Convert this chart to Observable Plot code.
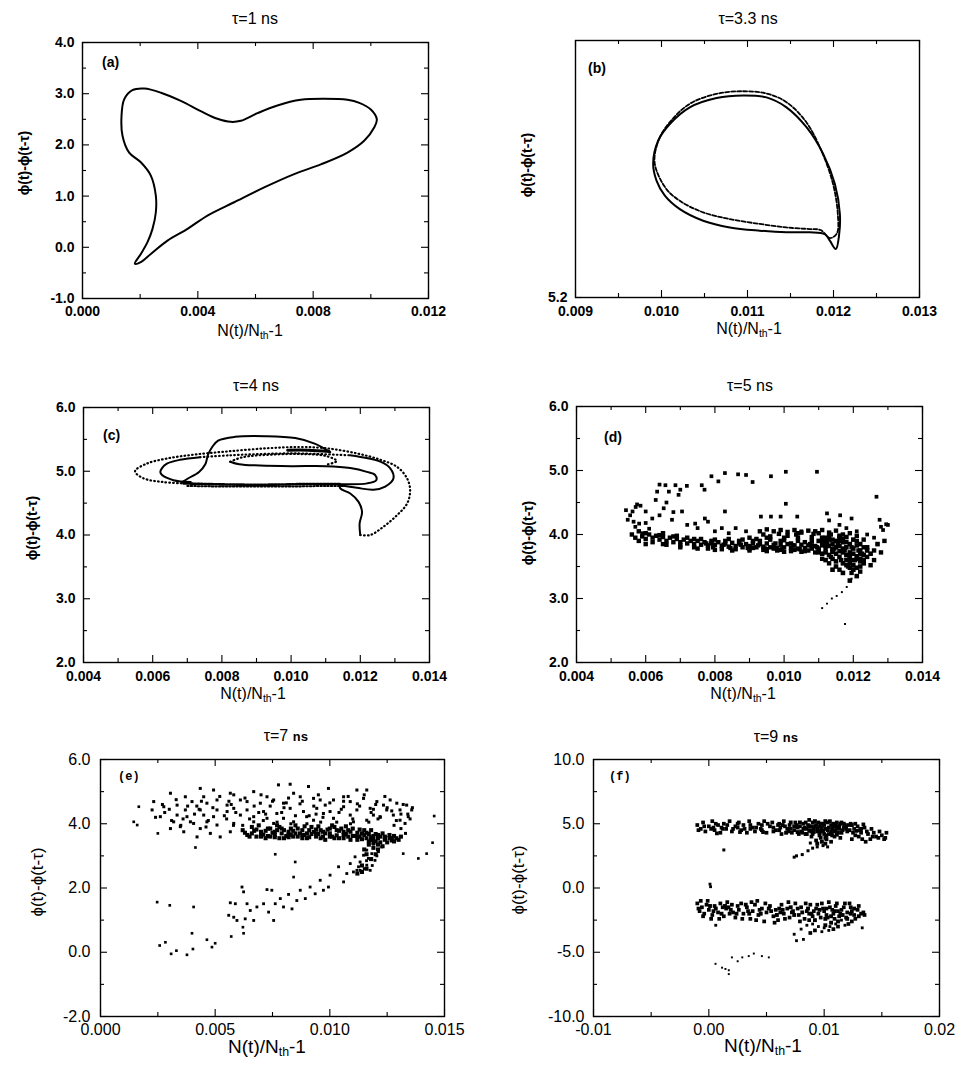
<!DOCTYPE html>
<html><head><meta charset="utf-8">
<script src="https://cdn.jsdelivr.net/npm/d3@7"></script>
<script src="https://cdn.jsdelivr.net/npm/@observablehq/plot@0.6"></script>
<style>
body{margin:0;background:#fff;}
#fig{position:relative;width:956px;height:1065px;overflow:hidden;background:#fff;font-family:"Liberation Sans",Arial,sans-serif;color:#000;}
.box{position:absolute;}
.t{position:absolute;white-space:nowrap;transform:translate(-50%,-50%);line-height:1;}
.yl{position:absolute;white-space:nowrap;transform:translate(-50%,-50%) rotate(-90deg);line-height:1;}
.pl{position:absolute;white-space:nowrap;transform:translateY(-50%);line-height:1;}
sub{font-size:65%;vertical-align:-0.25em;}
</style></head><body><div id="fig"></div><script>
// ---------- panel (a) tau = 1 ns : closed orbit ----------
const aX = [.001445,.001353,.001387,.001618,.002023,.002370,.002543,.002543,.002428,.002254,.002023,.001815,.002023,.002370,.002948,.003642,.004335,.005260,.006301,.007341,.008266,.009191,.009769,.010116,.010208,.010000,.009600,.009191,.008380,.007570,.006760,.006070,.005490,.005140,.004680,.004100,.003410,.002720,.002140,.001730];
const aY = [2.89,2.56,2.18,1.85,1.66,1.40,1.01,0.68,0.36,0.10,-0.13,-0.32,-0.29,-0.13,0.13,0.36,0.62,0.88,1.17,1.43,1.62,1.85,2.08,2.34,2.50,2.69,2.82,2.88,2.90,2.88,2.77,2.62,2.47,2.45,2.51,2.66,2.86,3.02,3.10,3.07];

// ---------- panel (b) tau = 3.3 ns : two close loops ----------
const bLoop1 = [[.009903,5.616],[.009961,5.688],[.010097,5.740],[.010329,5.792],[.010640,5.821],[.010950,5.829],[.011221,5.823],[.011453,5.792],[.011686,5.730],[.011880,5.647],[.012016,5.553],[.012074,5.460],[.012066,5.397],[.012027,5.351],[.011957,5.377],[.011899,5.397],[.011725,5.403],[.011453,5.403],[.011143,5.408],[.010795,5.418],[.010484,5.439],[.010213,5.475],[.010039,5.517],[.009942,5.564]];
const bLoop2 = [[.009920,5.620],[.009975,5.695],[.010110,5.750],[.010329,5.803],[.010640,5.834],[.010950,5.842],[.011221,5.835],[.011453,5.808],[.011686,5.745],[.011870,5.650],[.011995,5.553],[.012050,5.460],[.012040,5.400],[.011960,5.385],[.011850,5.410],[.011725,5.413],[.011453,5.418],[.011143,5.429],[.010795,5.444],[.010484,5.465],[.010213,5.501],[.010050,5.540]];

// ---------- panel (c) tau = 4 ns : multi-loop orbit ----------
const cDotOuter = [[.01200,4.00],[.01229,4.00],[.01267,4.13],[.01306,4.31],[.01335,4.49],[.01344,4.70],[.01335,4.89],[.01306,5.07],[.01258,5.18],[.01190,5.28],[.01103,5.36],[.01026,5.38],[.00930,5.36],[.00814,5.31],[.00718,5.26],[.00641,5.20],[.00583,5.12],[.00549,5.00],[.00573,4.89],[.00631,4.83],[.00689,4.81]];
const cBandA = [[.00689,4.81],[.0075,4.80],[.0085,4.79],[.0095,4.79],[.0105,4.80],[.0114,4.80]];
const cBandB = [[.0070,4.77],[.0080,4.76],[.0090,4.76],[.0100,4.76],[.0110,4.77],[.0115,4.77]];
const cSolidTip = [[.0114,4.80],[.01142,4.73],[.01171,4.65],[.01195,4.52],[.01205,4.36],[.01198,4.18],[.01200,4.00]];
const cSolidUpper = [[.01113,5.30],[.01070,5.43],[.01012,5.52],[.00925,5.55],[.00838,5.54],[.00789,5.48],[.00772,5.38],[.00760,5.26],[.00752,5.11],[.00734,4.99],[.00703,4.89],[.00685,4.83]];
const cHeavyTop = [[.0099,5.33],[.0105,5.33],[.0111,5.31]];
const cSolidLoop2 = [[.0071,4.83],[.0066,4.86],[.00627,4.94],[.00622,4.99],[.00627,5.05],[.00641,5.12],[.00679,5.18],[.00737,5.22]];
const cDotLoop2 = [[.00737,5.22],[.00824,5.25],[.00910,5.27],[.0100,5.28],[.0108,5.27],[.0117,5.25]];
const cSolidLobe = [[.0117,5.25],[.01258,5.15],[.01286,5.05],[.01296,4.89],[.01272,4.76],[.01238,4.71],[.0119,4.74],[.0114,4.78]];
const cSolidInner = [[.0112,4.80],[.0122,4.81],[.01246,4.86],[.01243,4.94],[.01219,4.99],[.01171,5.05],[.0110,5.08],[.0100,5.08],[.0091,5.09],[.0085,5.11],[.00824,5.15]];
const cDotSmall = [[.00824,5.15],[.0086,5.22],[.0094,5.26],[.0103,5.27],[.0110,5.24],[.01132,5.16],[.0110,5.10]];

// ---------- panel (d) tau = 5 ns : scattered points ----------
const dUpper = [[.00829,4.96],[.00867,4.94],[.0089,4.93],[.00909,4.82],[.0079,4.91],[.0081,4.83],[.00762,4.77],[.00719,4.76],[.00686,4.77],[.00657,4.77],[.00667,4.67],[.00633,4.67],[.00629,4.54],[.006,4.36],[.00962,4.91],[.01005,4.98],[.01095,4.98],[.01267,4.59],[.01005,4.48],[.01038,4.28],[.01124,4.33],[.01162,4.3],[.01195,4.25],[.01276,4.23],[.01295,4.16],[.01286,4.07],[.00829,4.36],[.00771,4.25],[.00743,4.17],[.00695,4.62],[.00705,4.36],[.00676,4.23],[.00652,4.41],[.00619,4.25],[.00571,4.43],[.00562,4.36],[.00543,4.38],[.00548,4.23],[.00581,4.17],[.0061,4.09],[.0059,4.02],[.00933,4.28],[.00962,4.28],[.00575,4.47],[.00585,4.45],[.00555,4.30],[.00565,4.20],[.0057,4.12],[.0060,4.18],[.0064,4.30],[.0066,4.50],[.0068,4.35],[.0072,4.15],[.0075,4.1],[.0078,4.2],[.0080,4.05],[.0084,4.02],[.0086,4.1],[.0089,4.05],[.0070,4.7],[.0064,4.78],[.0082,4.1],[.0077,4.7],[.0099,4.28],[.0105,4.05],[.0113,4.22],[.0116,4.15],[.0118,4.1],[.0121,4.05],[.0124,4.0],[.0126,3.95],[.0128,4.12],[.0130,4.15]];
const dBand = [[.0056,4.0],[.0057,3.95],[.0058,4.05],[.0059,3.97],[.0060,3.93],[.0061,4.0],[.0062,3.95],[.0063,3.98],[.0064,3.92],[.0065,3.96],[.0066,3.9],[.0067,3.95],[.0068,3.88],[.0069,3.93],[.0070,3.88],[.0071,3.92],[.0072,3.86],[.0073,3.9],[.0074,3.85],[.0075,3.9],[.0076,3.84],[.0077,3.88],[.0078,3.83],[.0079,3.9],[.0080,3.84],[.0081,3.88],[.0082,3.82],[.0083,3.86],[.0084,3.81],[.0085,3.87],[.0086,3.82],[.0087,3.86],[.0088,3.8],[.0089,3.85],[.0090,3.82],[.0091,3.86],[.0092,3.8],[.0093,3.85],[.0094,3.81],[.0095,3.86],[.0096,3.8],[.0097,3.84],[.0098,3.79],[.0099,3.84],[.0100,3.8],[.0101,3.85],[.0102,3.79],[.0103,3.83],[.0104,3.78],[.0105,3.84],[.0106,3.79],[.0107,3.83],[.0108,3.78],[.0109,3.82],[.0110,3.78],[.0111,3.83],[.0112,3.78],[.0113,3.82],[.0114,3.77],[.0093,4.05],[.0095,4.08],[.0097,4.05],[.0099,4.07],[.0101,4.04],[.0103,4.07],[.0105,4.03],[.0107,4.06],[.0109,4.05],[.0111,4.07],[.0113,4.03],[.0115,4.06],[.0117,4.0],[.0104,3.95],[.0108,3.96],[.0112,3.95],[.0116,3.95],[.0100,3.95],[.0096,3.97],[.0060,3.85],[.0065,3.85],[.0070,3.8],[.0075,3.78],[.0080,3.76],[.0085,3.75],[.0090,3.75],[.0095,3.74],[.0100,3.73],[.0105,3.73],[.0110,3.72]];
const dBand2 = [[.0058,3.9],[.0060,4.02],[.0062,3.88],[.0064,3.99],[.0066,3.84],[.0068,3.97],[.0070,3.83],[.0072,3.95],[.0074,3.8],[.0076,3.93],[.0078,3.78],[.0080,3.92],[.0082,3.77],[.0084,3.93],[.0086,3.77],[.0088,3.92],[.0090,3.78],[.0092,3.93],[.0094,3.76],[.0096,3.92],[.0098,3.75],[.0100,3.91],[.0102,3.74],[.0104,3.9],[.0106,3.74],[.0108,3.9],[.0110,3.74],[.0112,3.9],[.0114,3.73],[.0116,3.9],[.00775,3.86],[.00825,3.84],[.00875,3.84],[.00925,3.83],[.00975,3.86],[.01025,3.83],[.01075,3.85],[.01125,3.85],[.00795,3.8],[.00845,3.79],[.00895,3.79],[.00945,3.78],[.00995,3.77],[.01045,3.77],[.01095,3.8],[.00985,4.01],[.01035,4.0],[.01085,4.01],[.01135,4.0],[.0094,4.0],[.0119,4.02],[.0121,3.98],[.0123,3.92],[.01165,3.6],[.01185,3.5],[.01205,3.6],[.01195,3.4],[.01215,3.75],[.01225,3.7],[.01155,3.85],[.01175,3.75],[.01195,3.8],[.01135,3.65],[.01145,3.78],[.0126,3.6],[.0125,3.52],[.0128,3.72],[.0129,3.9]];
const dCore = [[.0090,3.95],[.0091,3.79],[.0093,3.9],[.0095,3.95],[.0097,3.78],[.0099,3.9],[.0101,3.98],[.0102,3.86],[.0104,4.02],[.0106,3.88],[.0108,3.83],[.0110,4.02],[.0111,3.88],[.0112,3.82],[.0113,3.97],[.0114,3.92],[.0115,3.8],[.0116,3.74],[.0117,3.93],[.0118,3.88],[.0119,3.66],[.0120,3.6],[.0121,3.9],[.0122,3.7],[.0123,3.8],[.0121,3.62],[.0118,3.52],[.0116,3.45],[.0119,3.48],[.0122,3.42],[.0124,3.65],[.0126,3.75],[.0113,3.55],[.0111,3.62],[.0109,3.72],[.0107,3.75],[.0103,3.76],[.0099,3.76],[.0095,3.77],[.0091,3.9],[.0087,3.9],[.0083,3.9],[.0079,3.86],[.0074,3.93],[.0069,3.98],[.0065,4.02]];
const dCluster = [[.0110,3.9],[.0111,3.95],[.0112,3.88],[.0113,3.92],[.0114,3.85],[.0115,3.9],[.0116,3.82],[.0117,3.88],[.0118,3.8],[.0119,3.85],[.0120,3.78],[.0121,3.83],[.0122,3.75],[.0115,3.7],[.0116,3.65],[.0117,3.72],[.0118,3.68],[.0119,3.62],[.0120,3.7],[.0121,3.66],[.0122,3.58],[.0123,3.68],[.0114,3.62],[.0113,3.68],[.0112,3.72],[.0115,3.58],[.0117,3.55],[.0118,3.6],[.0120,3.52],[.0121,3.48],[.0116,3.98],[.0118,3.96],[.0120,3.92],[.0119,3.72],[.0117,3.78],[.0114,3.75],[.0111,3.7],[.0122,3.85],[.0124,3.8],[.0123,3.55],[.0112,3.6],[.0127,3.85],[.0125,3.7],[.0123,3.6],[.0122,3.5],[.0115,3.5],[.0114,3.45],[.0117,3.4],[.0119,3.55],[.0120,3.45],[.0121,3.35],[.0119,3.28],[.0122,3.62],[.0124,3.75]];
const dTail = [[.0111,2.85],[.01124,2.92],[.01138,3.0],[.01152,3.04],[.01167,3.1],[.01181,3.18],[.01195,3.31],[.01176,2.6]];

// ---------- panel (e) tau = 7 ns ----------
const eOut = [[.00145,4.06],[.0016,3.96],[.00167,4.53],[.0025,3.70],[.00247,1.56],[.00302,1.46],[.00258,.21],[.00283,.31],[.00308,-.05],[.00331,.05],[.00377,-.08],[.00399,.59],[.00406,1.41],[.00403,.10],[.00464,.39],[.00486,.16],[.0050,.28],[.0057,.49],[.00624,.59],[.00621,.78],[.00414,3.26],[.00762,3.05],[.00849,2.81],[.00842,2.34],[.0132,3.07],[.01386,2.92],[.01422,3.07],[.01448,3.41],[.01455,4.24]];
const eCloud = [[.00305,4.95],[.00435,5.10],[.0037,4.84],[.00493,5.05],[.00581,4.9],[.00668,5.0],[.00776,5.21],[.00827,5.23],[.00907,5.16],[.00994,5.10],[.01118,5.05],[.01161,5.05],[.0106,4.84],[.00958,4.74],[.00871,4.84],[.00755,4.74],[.00697,4.64],[.0061,4.74],[.00552,4.58],[.00464,4.64],[.00399,4.69],[.00334,4.58],[.00276,4.53],[.00232,4.69],[.00225,4.43],[.00261,4.22],[.00319,4.06],[.00348,3.91],[.00305,3.85],[.00377,4.22],[.00435,4.43],[.00493,4.22],[.00552,4.38],[.0061,4.27],[.00668,4.22],[.00711,4.38],[.00769,4.32],[.00827,4.48],[.00885,4.38],[.00943,4.48],[.01001,4.38],[.0106,4.53],[.01118,4.43],[.01176,4.48],[.01234,4.58],[.01292,4.64],[.01335,4.58],[.01357,4.43],[.01342,4.22],[.01306,4.11],[.01328,4.01],[.01277,4.27],[.01219,4.22],[.01161,4.11],[.01103,4.06],[.01016,4.17],[.00929,4.11],[.00842,4.06],[.00755,4.01],[.00668,4.06],[.00581,4.01],[.00508,3.96],[.00435,3.85],[.00479,3.70],[.00522,3.59],[.00566,3.75],[.00464,4.06],[.00406,4.01],[.00334,4.27],[.0037,4.43],[.0045,4.84],[.00508,4.74],[.00566,4.95],[.00639,4.69],[.00726,4.84],[.00798,4.64],[.00842,4.95],[.00929,4.79],[.01016,4.74],[.01089,4.69],[.01147,4.79],[.01205,4.69],[.01263,4.74],[.01306,4.43],[.01248,4.43],[.0119,4.27],[.01089,4.27],[.00972,4.32],[.00899,4.22],[.00798,4.17],[.00726,4.17],[.00639,4.43],[.00581,4.48],[.00508,4.43],[.0045,4.27],[.00392,4.06],[.00363,3.75],[.00421,3.59],[.0028,4.35],[.0042,4.55],[.0055,4.15],[.0062,3.95],[.0074,4.55],[.0079,4.35],[.0087,4.62],[.0091,4.25],[.0098,4.58],[.0104,4.35],[.0112,4.62],[.0118,4.35],[.0125,4.5],[.0131,4.3],[.0135,4.15]];
const eCloud2 = [[.0030,4.45],[.0033,4.75],[.0036,4.15],[.0038,4.55],[.0041,4.3],[.0044,4.7],[.0047,4.1],[.0049,4.5],[.0052,4.85],[.0054,4.25],[.0057,4.6],[.0059,4.35],[.0063,4.8],[.0065,4.15],[.0067,4.55],[.0070,4.9],[.0072,4.3],[.0075,4.7],[.0077,4.05],[.0080,4.5],[.0082,4.8],[.0085,4.25],[.0088,4.7],[.0090,4.0],[.0093,4.55],[.0095,4.9],[.0097,4.2],[.0100,4.65],[.0103,4.05],[.0105,4.45],[.0108,4.85],[.0110,4.15],[.0113,4.55],[.0115,4.9],[.0117,4.05],[.0120,4.6],[.0122,4.2],[.0124,4.85],[.0127,4.4],[.0129,4.1],[.0132,4.6],[.0134,4.3],[.0136,4.5],[.0031,4.1],[.0043,4.45],[.0056,4.7],[.0069,4.35],[.0081,4.65],[.0094,4.3],[.0106,4.7],[.0119,4.45],[.0046,3.9],[.0058,3.95],[.0071,4.1],[.0083,4.0],[.0096,4.05],[.0109,4.0],[.0121,4.15],[.0128,3.95],[.0131,3.85],[.0133,3.7],[.0027,4.6],[.0024,4.2],[.0035,3.95]];
const eBand = [[.0062,3.8],[.0064,3.65],[.0066,3.9],[.0068,3.6],[.0070,3.75],[.0072,3.55],[.0074,3.85],[.0076,3.65],[.0078,3.9],[.0080,3.55],[.0082,3.75],[.0084,3.6],[.0086,3.85],[.0088,3.55],[.0090,3.7],[.0092,3.9],[.0094,3.6],[.0096,3.8],[.0098,3.5],[.0100,3.7],[.0102,3.9],[.0104,3.55],[.0106,3.75],[.0108,3.6],[.0110,3.85],[.0112,3.5],[.0114,3.7],[.0116,3.55],[.0118,3.8],[.0120,3.45],[.0122,3.6],[.0124,3.5],[.0126,3.65],[.0128,3.45],[.0063,3.72],[.0067,3.78],[.0071,3.66],[.0075,3.72],[.0079,3.7],[.0083,3.66],[.0087,3.7],[.0091,3.58],[.0095,3.68],[.0099,3.82],[.0103,3.64],[.0107,3.68],[.0111,3.62],[.0115,3.8],[.0119,3.62],[.0123,3.7],[.0127,3.55],[.0065,3.6],[.0069,3.95],[.0073,3.62],[.0077,3.8],[.0081,3.62],[.0085,3.95],[.0089,3.65],[.0093,3.75],[.0097,3.6],[.0101,3.6],[.0105,3.85],[.0109,3.5],[.0113,3.6],[.0117,3.68],[.0121,3.55],[.0125,3.42],[.0129,3.55],[.0131,3.6],[.0117,3.35],[.0119,3.25],[.0121,3.35],[.0115,3.2]];
const eBand2 = [[.0066,3.7],[.0068,3.82],[.0070,3.6],[.0072,3.78],[.0074,3.6],[.0076,3.75],[.0078,3.55],[.0080,3.8],[.0082,3.58],[.0084,3.78],[.0086,3.6],[.0088,3.8],[.0090,3.55],[.0092,3.68],[.0094,3.82],[.0096,3.55],[.0098,3.7],[.0100,3.85],[.0102,3.55],[.0104,3.78],[.0106,3.55],[.0108,3.8],[.0110,3.62],[.0112,3.72],[.0114,3.52],[.0116,3.72],[.0118,3.5],[.0120,3.68],[.0122,3.42],[.0124,3.6],[.0126,3.55],[.0128,3.62],[.0130,3.5],[.0119,3.4],[.0117,3.45],[.0121,3.2],[.0123,3.3],[.0116,3.05],[.0120,3.05],[.0118,2.9],[.0114,2.7],[.0116,2.6],[.0112,2.45],[.0114,2.5]];
const eCore = [[.0070,3.68],[.0073,3.85],[.0076,3.58],[.0079,3.85],[.0082,3.66],[.0085,3.7],[.0088,3.65],[.0091,3.8],[.0094,3.7],[.0097,3.75],[.0100,3.6],[.0103,3.8],[.0106,3.65],[.0109,3.75],[.0112,3.6],[.0115,3.65],[.0118,3.58],[.0121,3.65],[.0124,3.55],[.0127,3.48],[.0119,3.5],[.0113,3.82],[.0107,3.92],[.0101,3.95],[.0095,3.92],[.0089,3.92],[.0083,3.85],[.0077,3.95]];
const eBranch = [[.00559,1.15],[.00566,1.54],[.00581,1.09],[.00595,.99],[.00588,1.51],[.00617,2.03],[.00624,1.88],[.00639,1.51],[.00631,1.04],[.00653,1.30],[.00668,.99],[.00682,1.41],[.00711,1.51],[.00726,1.95],[.00747,1.93],[.00733,1.25],[.00755,.99],[.00762,1.51],[.00784,1.67],[.00798,1.41],[.0082,1.80],[.00835,1.35],[.00856,1.61],[.00871,1.93],[.00893,1.67],[.00914,2.03],[.00936,1.82],[.00958,2.24],[.00972,1.93],[.00994,2.03],[.01001,2.40],[.01038,2.66],[.0106,2.19],[.01074,2.45],[.01089,2.76],[.01103,2.50],[.0111,2.97],[.01125,2.66],[.01132,2.81],[.01147,3.02],[.01161,2.71],[.01168,2.92],[.01183,3.07],[.01197,2.86],[.01212,3.13],[.01226,3.28],[.0119,3.28],[.01161,3.18],[.01132,2.55],[.01118,2.55],[.01176,2.55],[.0115,2.60],[.0114,2.48],[.0116,2.85],[.01205,3.0],[.01185,2.7]];

// ---------- panel (f) tau = 9 ns ----------
const fUpper = [[-.0010,4.9],[-.0007,4.6],[-.0005,5.1],[-.0003,4.4],[0,4.8],[.0003,5.2],[.0005,4.5],[.0008,4.9],[.0010,4.3],[.0013,5.0],[.0015,4.6],[.0018,5.2],[.0020,4.4],[.0023,4.8],[.0026,5.1],[.0028,4.5],[.0030,4.9],[.0033,4.3],[.0035,5.2],[.0038,4.7],[.0040,4.4],[.0043,5.0],[.0045,4.6],[.0048,5.2],[.0050,4.3],[.0053,4.8],[.0055,5.1],[.0058,4.5],[.0060,4.9],[.0063,4.2],[.0065,5.2],[.0068,4.6],[.0070,4.9],[.0072,4.3],[.0075,5.1],[.0077,4.7],[.0080,4.4],[.0082,5.0],[.0085,4.6],[.0087,5.3],[.0090,4.2],[.0092,4.8],[.0095,5.1],[.0097,4.5],[.0100,4.9],[.0102,4.1],[.0105,5.2],[.0107,4.6],[.0110,4.9],[.0112,4.3],[.0115,5.1],[.0117,4.7],[.0120,4.4],[.0123,5.0],[.0126,4.6],[.0129,4.8],[.0132,4.3],[.0135,4.7],[.0138,4.2],[.0141,4.6],[.0145,4.0],[.0148,4.4],[.0152,3.8],[.0154,4.3],[.0140,3.8],[.0136,3.6],[.0130,4.0],[.0124,3.8],[.0083,4.7],[.0088,4.5],[.0093,4.9],[.0098,4.7],[.0103,4.5],[.0108,4.8],[.0113,4.6],[.0096,4.3],[.0104,4.2],[.0109,4.0],[.0114,3.9],[.0106,3.6],[.0101,3.9],[.0086,4.9],[.0091,4.6],[.0099,5.0],[.0111,5.1],[.0118,4.9],[.0090,5.1],[.0094,4.4],[.0100,4.2],[.0106,4.4],[.0112,4.8],[.0116,4.5],[.0079,4.8],[.0074,4.5],[.0062,4.7],[.0056,4.4],[.0046,4.9],[.0036,4.6],[.0025,4.7],[.0012,4.6],[.0004,4.7]];
const fUpper2 = [[-.0009,4.5],[-.0004,4.8],[.0002,4.6],[.0006,5.0],[.0011,4.7],[.0016,4.9],[.0021,4.6],[.0025,5.0],[.0031,4.6],[.0036,4.9],[.0041,4.7],[.0046,4.5],[.0051,5.0],[.0056,4.7],[.0061,5.0],[.0066,4.8],[.0071,4.6],[.0076,4.9],[.0081,4.3],[.0084,5.1],[.0089,4.8],[.0091,4.35],[.0096,4.8],[.0101,4.6],[.0103,5.1],[.0106,4.9],[.0109,4.4],[.0111,4.7],[.0114,5.0],[.0119,4.6],[.0121,4.9],[.0125,4.3],[.0127,5.0],[.0131,4.5],[.0134,4.95],[.0137,4.4],[.0143,4.3],[.0147,3.9],[.0150,4.1],[.0153,3.9],[.0142,4.0],[.0133,3.8],[.0127,4.1],[.0097,3.9],[.0093,3.7],[.0089,4.0],[.0085,4.2],[.0078,4.2],[.0099,4.45],[.0087,4.45],[.0069,4.4],[.0047,4.35],[.0027,4.35],[.0007,4.25]];
const fCoreU = [[.0061,4.5],[.0064,4.9],[.0067,4.3],[.0071,5.1],[.0074,4.8],[.0077,4.35],[.0079,5.1],[.0082,4.6],[.0084,4.2],[.0087,4.8],[.0089,4.4],[.0092,5.2],[.0094,4.6],[.0097,5.0],[.0099,4.4],[.0101,5.2],[.0104,4.7],[.0106,4.2],[.0108,5.0],[.0110,4.5],[.0113,4.8],[.0115,4.3],[.0117,5.0],[.0119,4.8],[.0122,4.5],[.0124,4.9],[.0128,4.45],[.0132,4.6],[.0096,4.1],[.0102,3.8],[.0107,4.1],[.0111,4.15],[.0098,3.6],[.0101,3.45],[.0094,3.45]];
const fUpperTail = [[.0099,3.3],[.0094,3.2],[.0090,3.1],[.0086,2.9],[.0081,2.6],[.0074,2.4],[.0076,2.5],[.0088,3.5],[.0103,3.2],[.0013,2.96]];
const fLower = [[-.0010,-1.2],[-.0008,-1.8],[-.0006,-1.5],[-.0004,-2.0],[-.0002,-1.3],[0,-1.7],[.0003,-2.1],[.0005,-1.4],[.0008,-1.9],[.0010,-1.2],[.0013,-2.2],[.0015,-1.6],[.0018,-2.0],[.0020,-1.3],[.0023,-2.3],[.0026,-1.7],[.0028,-1.2],[.0030,-2.0],[.0033,-1.5],[.0036,-2.4],[.0038,-1.8],[.0040,-1.3],[.0043,-2.1],[.0046,-1.6],[.0048,-2.6],[.0050,-1.9],[.0053,-1.4],[.0056,-2.2],[.0058,-1.7],[.0060,-2.5],[.0063,-1.3],[.0065,-2.0],[.0068,-1.6],[.0070,-2.3],[.0073,-1.8],[.0075,-1.2],[.0078,-2.1],[.0080,-1.5],[.0083,-2.4],[.0085,-1.8],[.0088,-1.3],[.0090,-2.2],[.0093,-1.6],[.0095,-2.0],[.0098,-1.2],[.0100,-1.8],[.0103,-2.3],[.0105,-1.5],[.0108,-2.0],[.0110,-1.4],[.0113,-2.2],[.0115,-1.7],[.0118,-1.2],[.0120,-1.9],[.0123,-1.5],[.0126,-2.1],[.0129,-1.7],[.0132,-2.0],[.0134,-1.9],[-.0007,-1.0],[.0002,-2.4],[.0017,-1.5],[.0042,-1.0],[.0062,-1.9],[.0087,-2.0],[.0102,-1.6],[.0112,-1.8]];
const fLower2 = [[-.0009,-1.6],[-.0005,-2.2],[-.0001,-1.0],[.0004,-1.8],[.0009,-2.4],[.0012,-1.5],[.0016,-1.1],[.0021,-1.9],[.0025,-1.4],[.0029,-2.4],[.0034,-1.8],[.0037,-1.1],[.0041,-2.5],[.0044,-1.7],[.0049,-1.2],[.0054,-1.8],[.0057,-2.7],[.0061,-1.6],[.0066,-2.4],[.0069,-1.1],[.0072,-1.9],[.0077,-1.6],[.0079,-2.6],[.0084,-1.2],[.0087,-2.5],[.0091,-1.8],[.0094,-1.3],[.0097,-2.3],[.0099,-1.6],[.0102,-2.1],[.0104,-1.1],[.0107,-1.7],[.0109,-2.4],[.0111,-1.2],[.0114,-2.0],[.0117,-1.5],[.0119,-2.3],[.0122,-1.2],[.0124,-1.8],[.0127,-2.4],[.0130,-1.4],[.0135,-2.1],[.0124,-2.6],[.0121,-2.8],[.0108,-3.2],[.0112,-3.0],[.0092,-3.3],[.0088,-3.5]];
const fCoreL = [[.0001,-1.4],[.0006,-1.6],[.0011,-2.0],[.0014,-1.4],[.0019,-1.7],[.0024,-2.0],[.0032,-1.3],[.0035,-2.0],[.0045,-2.0],[.0052,-1.6],[.0059,-2.1],[.0064,-1.7],[.0071,-1.5],[.0074,-2.1],[.0081,-1.9],[.0086,-1.6],[.0089,-2.0],[.0092,-2.5],[.0096,-1.7],[.0101,-2.4],[.0106,-2.2],[.0109,-1.8],[.0112,-2.6],[.0116,-2.1],[.0120,-2.4],[.0123,-2.0],[.0126,-1.6],[.0130,-2.2],[.0106,-2.7],[.0101,-2.9]];
const fLowerTail = [[.0090,-2.8],[.0095,-3.0],[.0100,-3.1],[.0105,-3.0],[.0110,-2.8],[.0115,-2.5],[.0085,-2.9],[.0080,-3.2],[.0074,-3.6],[.0076,-4.1],[.0082,-4.0],[.0098,-3.4],[.0104,-3.3],[.0118,-2.9],[.0133,-3.1],[.0001,.3],[.00015,.1],[.0006,-2.9]];
const fLowest = [[.00058,-5.9],[.00115,-6.2],[.00173,-6.4],[.0020,-5.4],[.0029,-5.4],[.00346,-5.3],[.0046,-5.3],[.0052,-5.4],[.00173,-6.7],[.00144,-6.3],[.0025,-5.7],[.0039,-5.1]];

// ---------- tick label arrays ----------
const aXT=[0,.004,.008,.012], aXm=[.002,.006,.010], aYT=[-1,0,1,2,3,4], aYm=[-.5,.5,1.5,2.5,3.5];
const bXT=[.009,.010,.011,.012,.013], bXm=[.0095,.0105,.0115,.0125], bYT=[5.2], bYm=[];
const cdXT=[.004,.006,.008,.010,.012,.014], cdXm=[.005,.007,.009,.011,.013], cdYT=[2,3,4,5,6], cdYm=[2.5,3.5,4.5,5.5];
const eXT=[0,.005,.010,.015], eXm=[.0025,.0075,.0125], eYT=[-2,0,2,4,6], eYm=[-1,1,3,5];
const fXT=[-.01,0,.01,.02], fXm=[-.005,.005,.015], fYT=[-10,-5,0,5,10], fYm=[-7.5,-2.5,2.5,7.5];

const fig = document.getElementById("fig");
const P = d => d[0], Q = d => d[1];

function panel(p){
  const ml=60, mt=10, mr=10, mb=34;
  const [L,T,W,H] = p.frame;
  const tk = {stroke:"#000", strokeWidth:1.1};
  const marks = [
    Plot.tickX(p.xT, {x:d=>d, insetTop:H-7, ...tk}),
    Plot.tickX(p.xT, {x:d=>d, insetBottom:H-7, ...tk}),
    Plot.tickX(p.xm, {x:d=>d, insetTop:H-4, ...tk}),
    Plot.tickX(p.xm, {x:d=>d, insetBottom:H-4, ...tk}),
    Plot.tickY(p.yT, {y:d=>d, insetRight:W-7, ...tk}),
    Plot.tickY(p.yT, {y:d=>d, insetLeft:W-7, ...tk}),
    Plot.tickY(p.ym, {y:d=>d, insetRight:W-4, ...tk}),
    Plot.tickY(p.ym, {y:d=>d, insetLeft:W-4, ...tk}),
    Plot.axisX({ticks:p.xT, tickSize:0, tickPadding:p.xPad, tickFormat:p.xFmt, label:null}),
    Plot.axisY({ticks:p.yT, tickSize:0, tickPadding:p.yPad, tickFormat:d=>d.toFixed(1), label:null}),
    ...p.marks,
    Plot.frame({stroke:"#000", strokeWidth:1.4})
  ];
  const svg = Plot.plot({
    width:W+ml+mr, height:H+mt+mb, marginLeft:ml, marginTop:mt, marginRight:mr, marginBottom:mb,
    x:{domain:p.xD}, y:{domain:p.yD},
    style:{fontFamily:"'Liberation Sans', Arial, sans-serif", fontSize:p.fs+"px", fontWeight:p.fw, color:"#000", background:"none", overflow:"visible"},
    marks
  });
  const box = document.createElement("div");
  box.className="box"; box.style.left=(L-ml)+"px"; box.style.top=(T-mt)+"px";
  box.appendChild(svg); fig.appendChild(box);
}
function txt(cls, x, y, html, style){
  const d=document.createElement("div"); d.className=cls;
  d.style.left=x+"px"; d.style.top=y+"px"; d.innerHTML=html;
  Object.assign(d.style, style||{}); fig.appendChild(d);
}

const line = (data, o) => Plot.line(data, {x:P, y:Q, stroke:"#000", strokeWidth:2, curve:"catmull-rom", ...o});
const dotted = (data, o) => line(data, {strokeDasharray:"0.6,3.2", strokeLinecap:"round", strokeWidth:2.2, ...o});
const sq = (data, r) => Plot.dot(data, {x:P, y:Q, symbol:"square", r, fill:"#000", stroke:"none"});

// (a)
panel({frame:[82,42,346,256], xD:[0,.012], yD:[-1,4], xT:aXT, xm:aXm, yT:aYT, ym:aYm, xFmt:d=>d.toFixed(3), xPad:8, yPad:8, fs:14, fw:"bold",
  marks:[Plot.line(aX.map((x,i)=>[x,aY[i]]), {x:P, y:Q, stroke:"#000", strokeWidth:2, curve:"catmull-rom-closed"})]});
// (b)
panel({frame:[575,40,344,257], xD:[.009,.013], yD:[5.2,6.0], xT:bXT, xm:bXm, yT:bYT, ym:bYm, xFmt:d=>d.toFixed(3), xPad:9, yPad:8, fs:14, fw:"bold",
  marks:[
    Plot.line(bLoop1, {x:P, y:Q, stroke:"#000", strokeWidth:2, curve:"catmull-rom-closed"}),
    Plot.line(bLoop2, {x:P, y:Q, stroke:"#000", strokeWidth:1.8, strokeDasharray:"4,2", curve:"catmull-rom-closed"})
  ]});
// (c)
panel({frame:[83,407,346,255], xD:[.004,.014], yD:[2,6], xT:cdXT, xm:cdXm, yT:cdYT, ym:cdYm, xFmt:d=>d.toFixed(3), xPad:9, yPad:8, fs:14, fw:"bold",
  marks:[
    dotted(cDotOuter), dotted(cDotLoop2), dotted(cDotSmall),
    line(cBandA, {strokeDasharray:"2,1.5", strokeWidth:2.6}),
    line(cBandB, {strokeDasharray:"1.5,2", strokeWidth:2}),
    line(cSolidTip), line(cSolidUpper), line(cHeavyTop, {strokeWidth:3}),
    line(cSolidLoop2), line(cSolidLobe), line(cSolidInner)
  ]});
// (d)
panel({frame:[576,406,346,256], xD:[.004,.014], yD:[2,6], xT:cdXT, xm:cdXm, yT:cdYT, ym:cdYm, xFmt:d=>d.toFixed(3), xPad:9, yPad:8, fs:14, fw:"bold",
  marks:[sq(dUpper,2.1), sq(dBand,2.5), sq(dBand2,2.5), sq(dCore,2.5), sq(dCluster,2.6), sq(dTail,1.1)]});
// (e)
panel({frame:[100,759,344,257], xD:[0,.015], yD:[-2,6], xT:eXT, xm:eXm, yT:eYT, ym:eYm, xFmt:d=>d.toFixed(3), xPad:7, yPad:10, fs:16, fw:"normal",
  marks:[sq(eOut,1.5), sq(eCloud,1.7), sq(eCloud2,1.7), sq(eBand,2.3), sq(eBand2,2.3), sq(eCore,2.3), sq(eBranch,1.6)]});
// (f)
panel({frame:[593,759,346,257], xD:[-.01,.02], yD:[-10,10], xT:fXT, xm:fXm, yT:fYT, ym:fYm, xFmt:d=>d.toFixed(2), xPad:7, yPad:9, fs:16, fw:"normal",
  marks:[sq(fUpper,2.1), sq(fUpper2,2.1), sq(fCoreU,2.2), sq(fUpperTail,1.7), sq(fLower,2.1), sq(fLower2,2.1), sq(fCoreL,2.2), sq(fLowerTail,1.6), sq(fLowest,1.1)]});

// titles
const mono = 'font-family:"Liberation Mono",monospace;font-weight:bold;font-size:13px';
txt("t",255,19,"τ=1 ns",{fontSize:"16px"});
txt("t",748,19,"τ=3.3 ns",{fontSize:"16px"});
txt("t",256,386,"τ=4 ns",{fontSize:"16px"});
txt("t",750,386,"τ=5 ns",{fontSize:"16px"});
txt("t",286,736,`τ=7 <span style='${mono}'>ns</span>`,{fontSize:"16px"});
txt("t",776,737,`τ=9 <span style='${mono}'>ns</span>`,{fontSize:"16px"});
// x labels
const xl = "N(t)/N<sub>th</sub>-1";
txt("t",250,332,xl,{fontSize:"16px"});
txt("t",749,330,xl,{fontSize:"16px"});
txt("t",253,695,xl,{fontSize:"16px"});
txt("t",743,695,xl,{fontSize:"16px"});
txt("t",267,1048,xl,{fontSize:"19px"});
txt("t",763,1047,xl,{fontSize:"19px"});
// y labels
const yl = "ϕ(t)-ϕ(t-τ)";
txt("yl",24,163,yl,{fontSize:"14px",fontWeight:"bold"});
txt("yl",527,165,yl,{fontSize:"14px",fontWeight:"bold"});
txt("yl",32,528,yl,{fontSize:"14px",fontWeight:"bold"});
txt("yl",528,533,yl,{fontSize:"14px",fontWeight:"bold"});
txt("yl",37,882,yl,{fontSize:"17px"});
txt("yl",518,880,yl,{fontSize:"17px"});
// panel letters
txt("pl",102,62,"(a)",{fontSize:"14px",fontWeight:"bold"});
txt("pl",588,68,"(b)",{fontSize:"14px",fontWeight:"bold"});
txt("pl",103,435,"(c)",{fontSize:"14px",fontWeight:"bold"});
txt("pl",604,437,"(d)",{fontSize:"14px",fontWeight:"bold"});
txt("pl",118,777,"(e)",{fontFamily:"'Liberation Mono',monospace",fontSize:"12px",fontWeight:"bold"});
txt("pl",609,777,"(f)",{fontFamily:"'Liberation Mono',monospace",fontSize:"12px",fontWeight:"bold"});
</script></body></html>
